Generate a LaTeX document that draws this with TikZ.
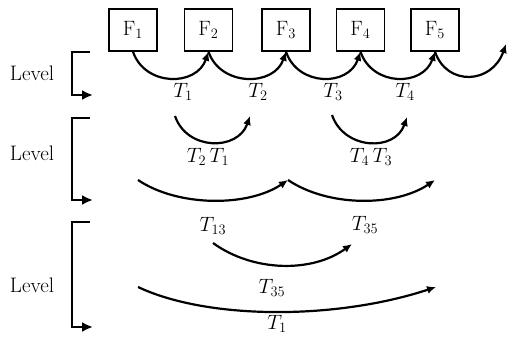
\documentclass[tikz,border=0pt]{standalone}
\usetikzlibrary{arrows.meta}
\begin{document}
\begin{tikzpicture}[x=1pt,y=1pt,
  fbox/.style={draw,line width=1.5pt,minimum width=48pt,minimum height=42pt,inner sep=0pt,font=\fontsize{21}{24}\selectfont},
  lab/.style={font=\fontsize{21}{24}\selectfont,inner sep=0pt},
  arc/.style={line width=2.2pt,-{Latex[length=9pt,width=8pt]}},
  brk/.style={line width=2.5pt,-{Latex[length=11pt,width=10pt]}}]
\useasboundingbox (0,0) rectangle (507,-337);
% boxes
\node[fbox] (F1) at (133,-30) {$\mathrm{F}_1$};
\node[fbox] (F2) at (208.5,-30) {$\mathrm{F}_2$};
\node[fbox] (F3) at (286,-30) {$\mathrm{F}_3$};
\node[fbox] (F4) at (360.5,-30) {$\mathrm{F}_4$};
\node[fbox] (F5) at (435,-30) {$\mathrm{F}_5$};
\coordinate (E5) at (506,-44);
% level 1 arcs
\draw[arc] (F1.south) .. controls +(12,-35) and +(-12,-35) .. (F2.south);
\draw[arc] (F2.south) .. controls +(12,-35) and +(-12,-35) .. (F3.south);
\draw[arc] (F3.south) .. controls +(12,-35) and +(-12,-35) .. (F4.south);
\draw[arc] (F4.south) .. controls +(12,-35) and +(-12,-35) .. (F5.south);
\draw[arc] (F5.south) .. controls +(12,-35) and +(-14,-40) .. (E5);
\node[lab] (t1) at (183,-92) {$T_1$};
\node[lab] (t2) at (258,-92) {$T_2$};
\node[lab] (t3) at (333,-92) {$T_3$};
\node[lab] (t4) at (405,-92) {$T_4$};
% level 2
\coordinate (a1) at (175,-116); \coordinate (a2) at (250,-116);
\coordinate (b1) at (332,-115); \coordinate (b2) at (407,-117);
\draw[arc] (a1) .. controls +(12,-35) and +(-12,-35) .. (a2);
\draw[arc] (b1) .. controls +(12,-35) and +(-12,-35) .. (b2);
\node[lab] (t21) at (208,-157) {$T_2\,T_1$};
\node[lab] (t43) at (371,-157) {$T_4\,T_3$};
\coordinate (c1) at (138,-180); \coordinate (c2) at (288,-180); \coordinate (c3) at (435,-180);
\draw[arc] (c1) .. controls +(40,-27) and +(-40,-27) .. (c2);
\draw[arc] (c2) .. controls +(40,-27) and +(-40,-27) .. (c3);
\node[lab] (t13) at (213,-226) {$T_{13}$};
\node[lab] (t35) at (365,-225) {$T_{35}$};
% level 3
\coordinate (d1) at (213,-243); \coordinate (d2) at (352,-244);
\coordinate (e1) at (138,-287); \coordinate (e2) at (436,-287);
\draw[arc] (d1) .. controls +(40,-29) and +(-40,-29) .. (d2);
\draw[arc] (e1) .. controls +(70,-33) and +(-100,-33) .. (e2);
\node[lab] (t35b) at (272,-288) {$T_{35}$};
\node[lab] (t1b) at (277,-324) {$T_1$};
% level brackets
\node[lab] (L1) at (32,-73) {Level};
\node[lab] (L2) at (32,-153) {Level};
\node[lab] (L3) at (32,-285) {Level};
\coordinate (p1) at (90,-52); \coordinate (q1) at (93,-95);
\coordinate (p2) at (90,-118); \coordinate (q2) at (93,-200);
\coordinate (p3) at (90,-222); \coordinate (q3) at (93,-327);
\draw[brk] (p1) -| (72,-95) -- (q1);
\draw[brk] (p2) -| (72,-200) -- (q2);
\draw[brk] (p3) -| (72,-327) -- (q3);
\end{tikzpicture}
\end{document}
